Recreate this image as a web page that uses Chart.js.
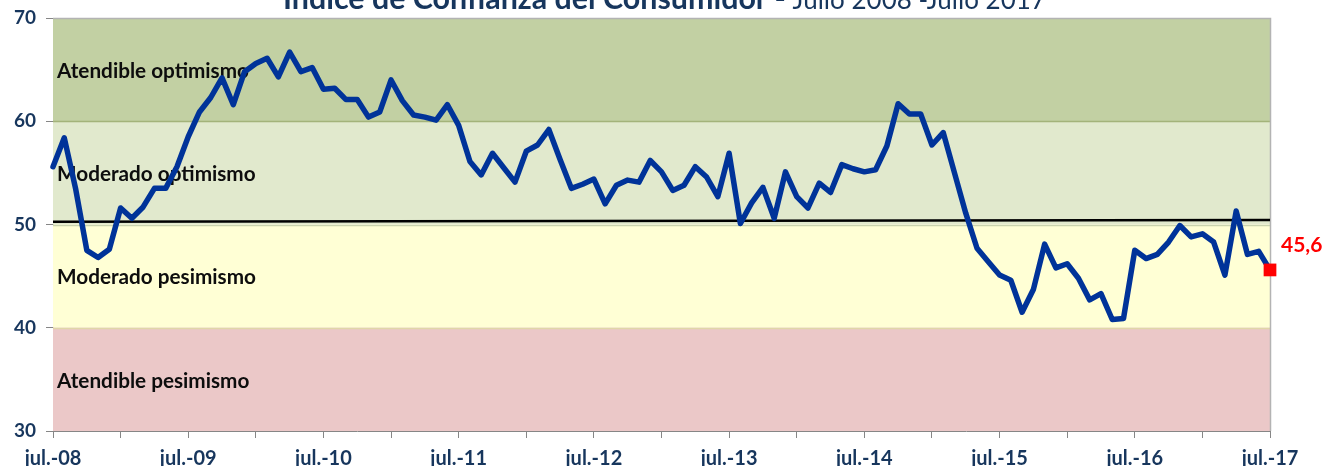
<!DOCTYPE html>
<html>
<head>
<meta charset="utf-8">
<script src="https://cdn.jsdelivr.net/npm/chart.js@4/dist/chart.umd.min.js"></script>
<style>
  html, body { margin: 0; padding: 0; background: #ffffff; }
  #wrap { width: 1337px; height: 466px; position: relative; }
</style>
</head>
<body>
<div id="wrap"><canvas id="c" width="1337" height="466"></canvas></div>
<script>
// ---- data ----
const monthNames = ['jul.','ago.','sep.','oct.','nov.','dic.','ene.','feb.','mar.','abr.','may.','jun.'];
const yearTickLabels = ['jul.-08','jul.-09','jul.-10','jul.-11','jul.-12','jul.-13','jul.-14','jul.-15','jul.-16','jul.-17'];
const indexValues = [
  55.6,58.4,53.5,47.5,46.8,47.6,51.6,50.6,51.7,53.5,53.5,55.6,
  58.5,60.9,62.3,64.2,61.6,64.8,65.6,66.1,64.3,66.7,64.8,65.2,
  63.1,63.2,62.1,62.1,60.4,60.9,64.0,62.0,60.6,60.4,60.1,61.6,
  59.6,56.1,54.8,56.9,55.5,54.1,57.1,57.7,59.2,56.3,53.5,53.9,
  54.4,52.0,53.8,54.3,54.1,56.2,55.1,53.3,53.8,55.6,54.6,52.7,
  56.9,50.1,52.1,53.6,50.6,55.1,52.7,51.6,54.0,53.1,55.8,55.4,
  55.1,55.3,57.6,61.7,60.7,60.7,57.7,58.9,55.0,51.1,47.7,46.4,
  45.1,44.6,41.5,43.7,48.1,45.8,46.2,44.8,42.7,43.3,40.8,40.9,
  47.5,46.7,47.1,48.3,49.9,48.8,49.1,48.3,45.1,51.3,47.1,47.4,
  45.6
];
const refLineStart = 50.27;
const refLineEnd = 50.44;
const yTicks = [30, 40, 50, 60, 70];
const bands = [
  { from: 60, to: 70, label: 'Atendible optimismo' },
  { from: 50, to: 60, label: 'Moderado optimismo' },
  { from: 40, to: 50, label: 'Moderado pesimismo' },
  { from: 30, to: 40, label: 'Atendible pesimismo' }
];
const titleBold = 'Índice de Confianza del Consumidor -';
const titleRegular = ' Julio 2008 -Julio 2017';
const lastLabel = '45,6';

// ---- build categories ----
const categories = indexValues.map((v, i) => {
  const yr = 8 + Math.floor((i + 6) / 12);
  return monthNames[i % 12] + '-' + String(yr).padStart(2, '0');
});
const refLine = indexValues.map((v, i) => i === 0 ? refLineStart : (i === indexValues.length - 1 ? refLineEnd : null));

// ---- styles ----
const bandColors = ['#C2D0A3', '#E1E9CD', '#FFFFD5', '#EBC8C8'];
const bandEdgeColors = { 60: '#A3B37A', 50: '#C9D3AE', 40: '#E0D6A8' };
const navy = '#17365D';
const FONT = 'Lato, "Open Sans", sans-serif';

function fitFont(ctx, text, weight, targetWidth) {
  ctx.font = weight + ' 20px ' + FONT;
  const w = ctx.measureText(text).width;
  return 20 * targetWidth / w;
}

const bandsPlugin = {
  id: 'bands',
  beforeDatasetsDraw(chart) {
    const { ctx, chartArea: a, scales: { y } } = chart;
    ctx.save();
    bands.forEach((b, k) => {
      const yt = y.getPixelForValue(b.to);
      const yb = y.getPixelForValue(b.from);
      ctx.fillStyle = bandColors[k];
      ctx.fillRect(a.left, yt, a.right - a.left, yb - yt);
    });
    Object.keys(bandEdgeColors).forEach(v => {
      const py = Math.round(y.getPixelForValue(+v)) + 0.5;
      ctx.strokeStyle = bandEdgeColors[v];
      ctx.lineWidth = 1.5;
      ctx.beginPath(); ctx.moveTo(a.left, py); ctx.lineTo(a.right, py); ctx.stroke();
    });
    ctx.strokeStyle = '#B3B3B3';
    ctx.lineWidth = 1.5;
    ctx.beginPath();
    ctx.moveTo(a.left, a.top + 0.5); ctx.lineTo(a.right + 0.5, a.top + 0.5); ctx.lineTo(a.right + 0.5, a.bottom);
    ctx.stroke();
    // band labels
    const fs = fitFont(ctx, bands[0].label, 'bold', 192);
    ctx.fillStyle = '#0D0D0D';
    ctx.font = 'bold ' + fs.toFixed(2) + 'px ' + FONT;
    ctx.textBaseline = 'alphabetic';
    ctx.textAlign = 'left';
    bands.forEach(b => {
      const py = y.getPixelForValue((b.from + b.to) / 2 - 0.8);
      ctx.fillText(b.label, a.left + 4, py);
    });
    ctx.restore();
  },
  afterDatasetsDraw(chart) {
    const { ctx } = chart;
    const meta = chart.getDatasetMeta(1);
    const pt = meta.data[meta.data.length - 1];
    ctx.save();
    ctx.fillStyle = '#FF0000';
    ctx.font = 'bold 21px ' + FONT;
    ctx.textBaseline = 'alphabetic';
    ctx.textAlign = 'left';
    ctx.fillText(lastLabel, pt.x + 11, pt.y - 18);
    // title
    ctx.fillStyle = navy;
    const fsb = fitFont(ctx, titleBold, 'bold', 503);
    ctx.font = 'bold ' + fsb.toFixed(2) + 'px ' + FONT;
    const wb = ctx.measureText(titleBold).width;
    const x0 = 283;
    ctx.textBaseline = 'alphabetic';
    ctx.fillText(titleBold, x0, 9);
    const fsr = fitFont(ctx, titleRegular, 'normal', 260);
    ctx.font = fsr.toFixed(2) + 'px ' + FONT;
    ctx.fillText(titleRegular, x0 + wb, 9);
    ctx.restore();
  }
};

new Chart(document.getElementById('c'), {
  type: 'line',
  data: {
    labels: categories,
    datasets: [
      {
        data: refLine,
        borderColor: '#000000',
        borderWidth: 2.5,
        pointRadius: 0,
        spanGaps: true,
        order: 2
      },
      {
        data: indexValues,
        borderColor: '#003399',
        borderWidth: 5.5,
        borderJoinStyle: 'round',
        borderCapStyle: 'round',
        tension: 0,
        pointStyle: 'rect',
        pointRadius: ctx => ctx.dataIndex === indexValues.length - 1 ? 9 : 0,
        pointBackgroundColor: '#FF0000',
        pointBorderColor: '#FF0000',
        pointBorderWidth: 0,
        order: 1
      }
    ]
  },
  options: {
    responsive: false,
    animation: false,
    events: [],
    layout: { padding: { top: 18, right: 67, left: 0, bottom: 0 } },
    plugins: { legend: { display: false }, tooltip: { enabled: false }, title: { display: false } },
    scales: {
      x: {
        type: 'category',
        offset: false,
        grid: {
          drawOnChartArea: false,
          tickLength: 7,
          color: ctx => (ctx.index % 6 === 0 ? '#868686' : 'rgba(0,0,0,0)'),
          lineWidth: 1
        },
        border: { display: true, color: '#868686', width: 1 },
        ticks: {
          autoSkip: false,
          maxRotation: 0,
          minRotation: 0,
          padding: 9,
          color: navy,
          font: { family: FONT, size: 20, weight: 'bold' },
          callback: function (val, i) {
            return i % 12 === 0 ? yearTickLabels[i / 12] : '';
          }
        },
        afterFit: s => { s.height = 35; s.paddingLeft = 0; s.paddingRight = 0; }
      },
      y: {
        min: 30,
        max: 70,
        afterBuildTicks: s => { s.ticks = yTicks.map(v => ({ value: v })); },
        grid: { drawOnChartArea: false, tickLength: 7, color: '#868686' },
        border: { display: true, color: '#868686', width: 1 },
        ticks: {
          padding: 10,
          color: navy,
          font: { family: FONT, size: 19, weight: 'bold' }
        },
        afterFit: s => { s.width = 53; s.paddingTop = 0; s.paddingBottom = 0; }
      }
    }
  },
  plugins: [bandsPlugin]
});
</script>
</body>
</html>
